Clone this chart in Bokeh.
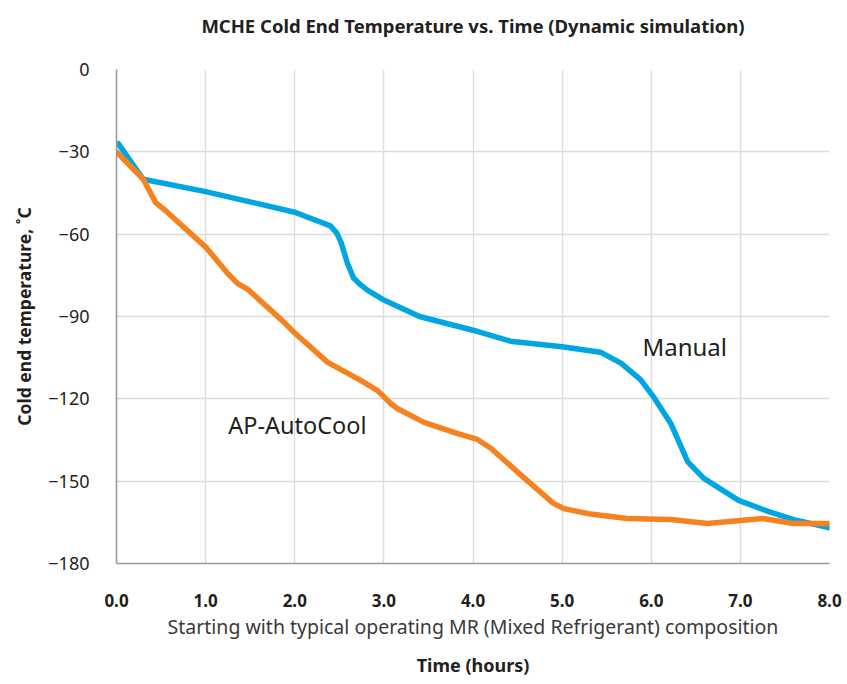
from bokeh.plotting import figure
from bokeh.models import Label, FixedTicker, Range1d, Title, LinearAxis
from bokeh.embed import file_html
from bokeh.resources import INLINE

# ---- data ----
manual_hours = [0.02, 0.30, 1.0, 2.0, 2.4, 2.47, 2.52, 2.59, 2.66, 2.74, 2.82, 3.0, 3.4, 4.0,
                4.42, 5.0, 5.43, 5.66, 5.88, 6.03, 6.22, 6.41, 6.59, 6.98, 7.31, 7.6, 8.0]
manual_temp = [-27, -40, -44.5, -52, -57, -59.5, -63, -70.5, -76, -78.5, -80.5, -84, -90, -95,
               -99, -101, -103, -107, -113, -119.5, -129, -143, -149, -157, -161, -164, -167]

auto_hours = [0.0, 0.30, 0.44, 0.57, 1.01, 1.25, 1.36, 1.47, 1.86, 2.0, 2.37, 2.74, 2.93, 3.08,
              3.15, 3.45, 3.83, 4.05, 4.2, 4.57, 4.9, 5.02, 5.32, 5.73, 6.22, 6.63, 7.25, 7.6, 8.0]
auto_temp = [-30, -40, -48.5, -52, -65, -74.4, -78, -80, -91.5, -96, -106.7, -113.3, -117, -121.8,
             -123.5, -128.6, -132.7, -134.8, -138, -148.7, -158, -160, -162, -163.6, -164, -165.4,
             -163.6, -165.4, -165.4]

x_ticks = [0, 1, 2, 3, 4, 5, 6, 7, 8]
x_tick_labels = ["0.0", "1.0", "2.0", "3.0", "4.0", "5.0", "6.0", "7.0", "8.0"]
y_ticks = [0, -30, -60, -90, -120, -150, -180]
y_tick_labels = ["0", "\u221230", "\u221260", "\u221290", "\u2212120", "\u2212150", "\u2212180"]

title_text = "MCHE Cold End Temperature vs. Time (Dynamic simulation)"
y_label_text = "Cold end temperature, \u02daC"
x_sub_text = "Starting with typical operating MR (Mixed Refrigerant) composition"
x_label_text = "Time (hours)"
series_names = ["Manual", "AP-AutoCool"]

FONT = "Noto Sans"
DARK = "#231f20"

p = figure(width=845, height=684, x_range=Range1d(0, 8), y_range=Range1d(-180, 0),
           output_backend="svg", toolbar_location=None,
           min_border_left=116, min_border_right=16, min_border_top=69, min_border_bottom=121)
p.title.visible = False
p.outline_line_color = None
p.background_fill_color = "white"
p.border_fill_color = "white"

# chart title, drawn as the label of a bare axis above the frame
top_axis = LinearAxis(ticker=FixedTicker(ticks=[]), axis_label=title_text,
                      axis_line_color=None, major_tick_line_color=None,
                      minor_tick_line_color=None, major_tick_out=0, major_tick_in=0,
                      minor_tick_out=0, major_label_text_font_size="0px",
                      major_label_standoff=0, axis_label_standoff=32,
                      axis_label_text_font=FONT, axis_label_text_font_size="18.5px",
                      axis_label_text_font_style="bold", axis_label_text_color=DARK)
p.add_layout(top_axis, "above")

# grid
p.xgrid.ticker = FixedTicker(ticks=x_ticks)
p.ygrid.ticker = FixedTicker(ticks=y_ticks)
for g in (p.xgrid, p.ygrid):
    g.grid_line_color = "#dcdcdc"
    g.grid_line_width = 1.4

# axes
xaxis = p.below[0]
yaxis = p.left[0]
xaxis.ticker = FixedTicker(ticks=x_ticks)
xaxis.major_label_overrides = {t: s for t, s in zip(x_ticks, x_tick_labels)}
yaxis.ticker = FixedTicker(ticks=y_ticks)
yaxis.major_label_overrides = {t: s for t, s in zip(y_ticks, y_tick_labels)}
for ax in (xaxis, yaxis):
    ax.axis_line_color = "#9b9b9b"
    ax.axis_line_width = 1.6
    ax.major_tick_line_color = None
    ax.minor_tick_line_color = None
    ax.major_label_text_font = FONT
    ax.major_label_text_color = DARK
    ax.axis_label_text_font = FONT
xaxis.major_label_text_font_size = "17px"
yaxis.major_label_text_font_size = "18px"
xaxis.major_label_text_font_style = "bold"
xaxis.major_label_standoff = 24
yaxis.major_label_standoff = 21

# y-axis title (slightly above the frame centre, as in the reference)
y_title = Title(text=y_label_text, align="center", offset=45, text_font=FONT,
                text_font_size="17.5px", text_font_style="bold", text_color=DARK, standoff=19)
p.add_layout(y_title, "left")

xaxis.axis_label = x_sub_text
xaxis.axis_label_text_font_size = "19.5px"
xaxis.axis_label_text_font_style = "normal"
xaxis.axis_label_text_color = "#3a3a3a"
xaxis.axis_label_standoff = 3

time_title = Title(text=x_label_text, align="center", text_font=FONT, text_font_size="18px",
                   text_font_style="bold", text_color=DARK, standoff=16)
p.add_layout(time_title, "below")

# series
p.line(manual_hours, manual_temp, line_color="#00a6e2", line_width=5.5,
       line_join="round", line_cap="round")
p.line(auto_hours, auto_temp, line_color="#f5821f", line_width=5.5,
       line_join="round", line_cap="round")

# in-plot series labels
p.add_layout(Label(x=6.375, y=-101, text=series_names[0], text_align="center",
                   text_baseline="middle", text_font=FONT, text_font_size="24px",
                   text_color=DARK))
p.add_layout(Label(x=2.03, y=-129.7, text=series_names[1], text_align="center",
                   text_baseline="middle", text_font=FONT, text_font_size="23.5px",
                   text_color=DARK))

open("out.html", "w").write(file_html(p, INLINE))
